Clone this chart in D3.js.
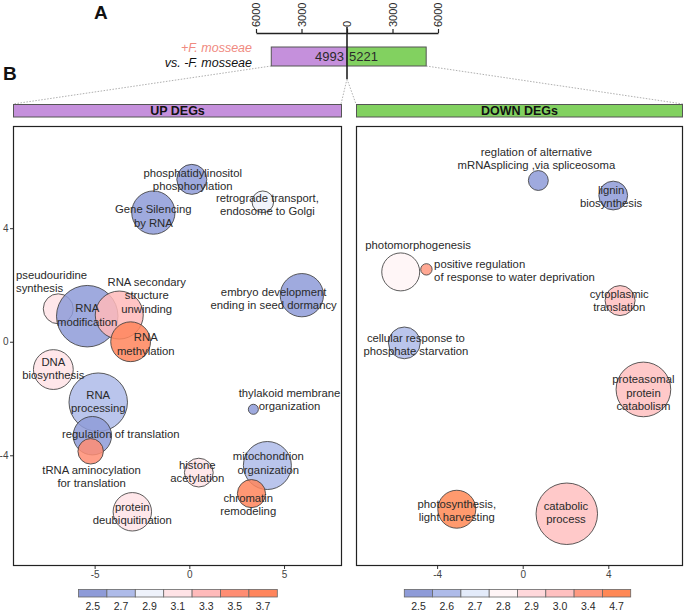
<!DOCTYPE html>
<html><head><meta charset="utf-8">
<script src="https://cdn.jsdelivr.net/npm/d3@7"></script>
<style>
body{margin:0;background:#fff}
svg{display:block}
text{font-family:"Liberation Sans",Arial,Helvetica,sans-serif}
</style>
</head><body>
<svg id="c" width="685" height="611"></svg>
<script>
// ---------------- data ----------------
const degGroups = ["UP DEGs", "DOWN DEGs"];
const degCounts = [4993, 5221];
const countTicks = [-6000, -3000, 0, 3000, 6000];

const upTerms = ["phosphatidylinositol\nphosphorylation", "Gene Silencing\nby RNA", "retrograde transport,\nendosome to Golgi",
  "pseudouridine\nsynthesis", "RNA\nmodification", "RNA secondary\nstructure\nunwinding", "RNA\nmethylation",
  "embryo development\nending in seed dormancy", "DNA\nbiosynthesis", "RNA\nprocessing", "regulation of translation",
  "tRNA aminocylation\nfor translation", "thylakoid membrane\norganization", "histone\nacetylation",
  "mitochondrion\norganization", "chromatin\nremodeling", "protein\ndeubiquitination"];
const upX = [0.13, -1.90, 3.88, -6.92, -5.39, -3.70, -3.10, 5.94, -7.18, -4.81, -5.12, -5.21, 3.38, 0.50, 4.12, 3.28, -3.01];
const upY = [5.72, 4.55, 4.93, 1.16, 0.90, 0.94, 0.00, 1.64, -0.98, -2.13, -3.31, -3.86, -2.38, -4.61, -4.36, -5.35, -5.99];
const upSize = [25, 52, 13, 25, 105, 64, 44, 52, 44, 95, 41, 18, 2.8, 23, 64, 22, 41];
const upValue = [2.5, 2.5, 2.9, 3.1, 2.5, 3.3, 3.7, 2.5, 3.1, 2.7, 2.5, 3.5, 2.5, 3.1, 2.7, 3.7, 3.1];
const upLabelX = [0.18, -1.90, 4.12, -9.15, -5.39, -2.25, -2.30, 4.45, -7.18, -4.81, -3.62, -5.16, 5.29, 0.42, 4.17, 3.11, -3.01];
const upLabelY = [5.72, 4.43, 4.84, 2.13, 0.94, 1.64, -0.08, 1.52, -0.94, -2.11, -3.26, -4.75, -2.04, -4.57, -4.27, -5.73, -6.05];
const upLabelHjust = [0.5, 0.5, 0.5, 0, 0.5, 0.5, 0.5, 0.5, 0.5, 0.5, 0.5, 0.5, 0.5, 0.5, 0.5, 0.5, 0.5];
const upXTicks = [-5, 0, 5];
const upYTicks = [-4, 0, 4];
const upLegend = [2.5, 2.7, 2.9, 3.1, 3.3, 3.5, 3.7];

const downTerms = ["reglation of alternative\nmRNAsplicing ,via spliceosoma", "lignin\nbiosynthesis", "photomorphogenesis",
  "positive regulation\nof response to water deprivation", "cytoplasmic\ntranslation",
  "cellular response to\nphosphate starvation", "proteasomal\nprotein\ncatabolism", "photosynthesis,\nlight harvesting",
  "catabolic\nprocess"];
const downX = [0.73, 4.23, -5.70, -4.50, 4.55, -5.53, 5.64, -3.08, 2.06];
const downY = [5.68, 5.15, 2.46, 2.55, 1.45, -0.04, -1.68, -5.90, -6.06];
const downSize = [11, 23, 40, 3.6, 25, 28, 83, 40, 105];
const downValue = [2.5, 2.5, 2.8, 3.4, 3.0, 2.6, 3.0, 4.7, 3.0];
const downLabelX = [0.64, 4.13, -4.89, -4.14, 4.51, -4.99, 5.64, -3.08, 2.02];
const downLabelY = [6.45, 5.11, 3.40, 2.50, 1.45, -0.10, -1.80, -5.95, -6.01];
const downLabelHjust = [0.5, 0.5, 0.5, 0, 0.5, 0.5, 0.5, 0.5, 0.5];
const downXTicks = [-4, 0, 4];
const downLegend = [2.5, 2.6, 2.7, 2.8, 2.9, 3.0, 3.4, 4.7];

// ---------------- styles ----------------
const upPalette = ["#8e9bd8", "#aebbe9", "#eef2fb", "#ffe3e6", "#ffbaba", "#ff8d73", "#ff855c"];
const downPalette = ["#8e9bd8", "#aebbe9", "#e3ebfa", "#fff5f6", "#ffd8db", "#ffc0c0", "#ff9980", "#ff8855"];
const PURPLE = "#c590dc", GREEN = "#82d160";
const TEXT = "#2a2a2a";
const fmtTick = d => String(d);   // plain hyphen-minus as in the reference

const svg = d3.select("#c");

// ---------------- panel A ----------------
svg.append("text").attr("x", 94).attr("y", 18.5).attr("font-size", 19).attr("font-weight", "bold").attr("fill", "#111").text("A");
svg.append("text").attr("x", 3).attr("y", 80).attr("font-size", 19).attr("font-weight", "bold").attr("fill", "#111").text("B");

const countScale = d3.scaleLinear().domain([-6000, 6000]).range([256, 438]);
const cx = countScale(0);
const axisY = 33;
const gAx = svg.append("g").attr("transform", `translate(0,${axisY})`)
  .call(d3.axisTop(countScale).tickValues(countTicks).tickFormat(d => Math.abs(d)).tickSize(4).tickSizeOuter(0));
gAx.select(".domain").attr("stroke", "#222").attr("stroke-width", 1.3);
gAx.selectAll(".tick line").attr("stroke", "#222").attr("stroke-width", 1.2);
gAx.selectAll(".tick text")
  .attr("x", 0).attr("y", 0).attr("dy", "0.35em")
  .attr("transform", "translate(0,-6) rotate(-90)")
  .attr("text-anchor", "start")
  .attr("font-size", 11).attr("fill", TEXT)
  .style("font-family", '"Liberation Sans",Arial,sans-serif');

const barY = 47, barH = 19;
const leftX = countScale(-degCounts[0]);
const rightX = countScale(degCounts[1]);

// dotted connectors
const dot = (x1, y1, x2, y2) => svg.append("line").attr("x1", x1).attr("y1", y1).attr("x2", x2).attr("y2", y2)
  .attr("stroke", "#9a9a9a").attr("stroke-width", 0.8).attr("stroke-dasharray", "1.5,1.5");
dot(leftX, barY + barH, 13, 104);
dot(rightX, barY + barH, 683, 104);
dot(cx, 79, 341, 104);
dot(cx, 79, 356, 104);

svg.append("rect").attr("x", leftX).attr("y", barY).attr("width", cx - leftX).attr("height", barH)
  .attr("fill", PURPLE).attr("stroke", "#555").attr("stroke-width", 1);
svg.append("rect").attr("x", cx).attr("y", barY).attr("width", rightX - cx).attr("height", barH)
  .attr("fill", GREEN).attr("stroke", "#555").attr("stroke-width", 1);
svg.append("line").attr("x1", cx).attr("x2", cx).attr("y1", 27).attr("y2", 79).attr("stroke", "#222").attr("stroke-width", 1.6);

svg.append("text").attr("x", cx - 3).attr("y", 61).attr("text-anchor", "end").attr("font-size", 13).attr("fill", TEXT).text(degCounts[0]);
svg.append("text").attr("x", cx + 2).attr("y", 61).attr("text-anchor", "start").attr("font-size", 13).attr("fill", TEXT).text(degCounts[1]);

svg.append("text").attr("x", 252).attr("y", 52).attr("text-anchor", "end").attr("font-size", 12.5)
  .attr("font-style", "italic").attr("fill", "#f08a80").text("+F. mosseae");
svg.append("text").attr("x", 252).attr("y", 67).attr("text-anchor", "end").attr("font-size", 12.5)
  .attr("font-style", "italic").attr("fill", "#111").text("vs. -F. mosseae");

// ---------------- panel B ----------------
const panels = [
  {name: degGroups[0], fill: PURPLE, x0: 13, x1: 342, xd: [-9.31, 8.06], terms: upTerms, xs: upX, ys: upY, sizes: upSize,
   vals: upValue, lx: upLabelX, ly: upLabelY, hj: upLabelHjust, xt: upXTicks, yt: upYTicks, legend: upLegend, pal: upPalette,
   legX: 78.5, cellW: 28.4},
  {name: degGroups[1], fill: GREEN, x0: 356, x1: 683, xd: [-7.79, 7.49], terms: downTerms, xs: downX, ys: downY, sizes: downSize,
   vals: downValue, lx: downLabelX, ly: downLabelY, hj: downLabelHjust, xt: downXTicks, yt: null, legend: downLegend, pal: downPalette,
   legX: 404.3, cellW: 28.3}
];
const py0 = 126, py1 = 566;
const rScale = d3.scaleSqrt().domain([0, 105]).range([0, 3 * Math.sqrt(105)]);

panels.forEach(p => {
  // header
  svg.append("rect").attr("x", p.x0 + 0.5).attr("y", 104.5).attr("width", p.x1 - p.x0 - 1).attr("height", 12.5)
    .attr("fill", p.fill).attr("stroke", "#555").attr("stroke-width", 1);
  svg.append("text").attr("x", (p.x0 + p.x1) / 2).attr("y", 115).attr("text-anchor", "middle")
    .attr("font-size", 12.5).attr("font-weight", "bold").attr("fill", "#111").text(p.name);

  const x = d3.scaleLinear().domain(p.xd).range([p.x0, p.x1]);
  const y = d3.scaleLinear().domain([7.6, -7.9]).range([py0, py1]);
  const color = d3.scaleOrdinal().domain(p.legend).range(p.pal);

  const g = svg.append("g");
  const data = p.terms.map((t, i) => ({t, x: p.xs[i], y: p.ys[i], s: p.sizes[i], v: p.vals[i], lx: p.lx[i], ly: p.ly[i], hj: p.hj[i]}));

  // x axis
  const gx = svg.append("g").attr("transform", `translate(0,${py1})`)
    .call(d3.axisBottom(x).tickValues(p.xt).tickFormat(fmtTick).tickSize(3).tickPadding(2).tickSizeOuter(0));
  gx.select(".domain").remove();
  gx.selectAll(".tick line").attr("stroke", "#333");
  gx.selectAll(".tick text").attr("font-size", 10).attr("fill", "#444").style("font-family", '"Liberation Sans",Arial,sans-serif');
  if (p.yt) {
    const gy = svg.append("g").attr("transform", `translate(${p.x0},0)`)
      .call(d3.axisLeft(y).tickValues(p.yt).tickFormat(fmtTick).tickSize(3).tickPadding(1.5).tickSizeOuter(0));
    gy.select(".domain").remove();
    gy.selectAll(".tick line").attr("stroke", "#333");
    gy.selectAll(".tick text").attr("font-size", 10).attr("fill", "#444").style("font-family", '"Liberation Sans",Arial,sans-serif');
  }

  // bubbles
  g.selectAll("circle").data(data).join("circle")
    .attr("cx", d => x(d.x)).attr("cy", d => y(d.y)).attr("r", d => rScale(d.s))
    .attr("fill", d => color(d.v)).attr("fill-opacity", 0.85)
    .attr("stroke", "#404040").attr("stroke-opacity", 0.85).attr("stroke-width", 1);

  // labels
  const lh = 13.4;
  data.forEach(d => {
    const lines = d.t.split("\n");
    const txt = g.append("text").attr("font-size", 11.3).attr("fill", TEXT)
      .attr("text-anchor", d.hj === 0 ? "start" : "middle");
    lines.forEach((ln, i) => {
      txt.append("tspan").attr("x", x(d.lx)).attr("y", y(d.ly) + (i - (lines.length - 1) / 2) * lh)
        .attr("dy", "0.35em").text(ln);
    });
  });

  // panel border
  svg.append("rect").attr("x", p.x0 + 0.5).attr("y", py0 + 0.5).attr("width", p.x1 - p.x0 - 1).attr("height", py1 - py0 - 1)
    .attr("fill", "none").attr("stroke", "#222").attr("stroke-width", 1.2);

  // legend
  const lg = svg.append("g");
  p.legend.forEach((v, i) => {
    lg.append("rect").attr("x", p.legX + i * p.cellW).attr("y", 589.5).attr("width", p.cellW).attr("height", 7.5)
      .attr("fill", color(v)).attr("stroke", "#666").attr("stroke-width", 0.8);
    lg.append("text").attr("x", p.legX + (i + 0.5) * p.cellW).attr("y", 609.5).attr("text-anchor", "middle")
      .attr("font-size", 10.5).attr("fill", TEXT).text(v.toFixed(1));
  });
});
</script>
</body></html>
